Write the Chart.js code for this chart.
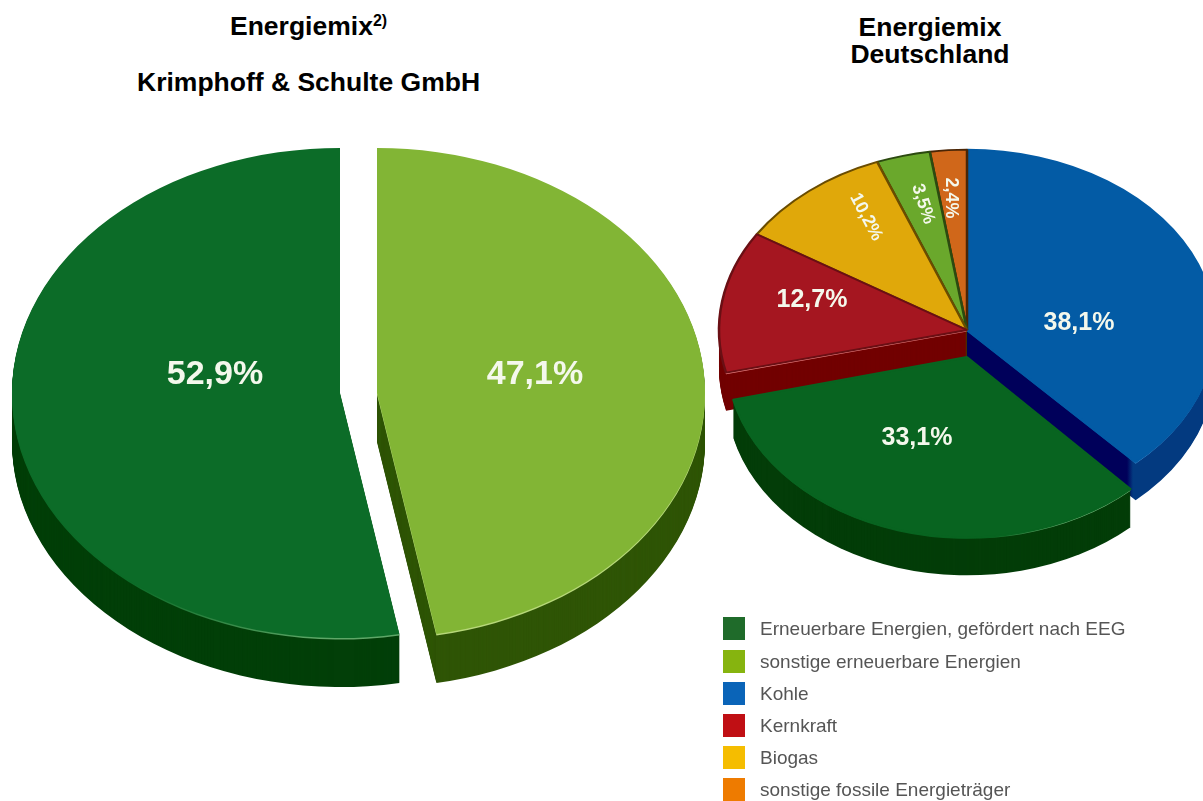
<!DOCTYPE html>
<html lang="de">
<head>
<meta charset="utf-8">
<title>Energiemix</title>
<script src="https://cdn.jsdelivr.net/npm/chart.js@4/dist/chart.umd.min.js"></script>
<style>
  html, body { margin: 0; background: #fff; width: 1203px; height: 801px; overflow: hidden; }
  body { position: relative; font-family: "Liberation Sans", Arial, sans-serif; }
  canvas { position: absolute; filter: blur(0.4px); }
  #mixLeft { left: 0; top: 0; }
  #mixRight { left: 700px; top: 0; }
  .title { position: absolute; font-weight: bold; font-size: 26.5px; line-height: 27px; text-align: center; color: #000; white-space: nowrap; }
  .title sup { font-size: 16px; line-height: 0; vertical-align: 9px; }
  #legend { position: absolute; left: 723px; top: 617px; }
  .row { position: absolute; left: 0; white-space: nowrap; height: 23px; }
  .row i { position: absolute; left: 0; top: 0; width: 22px; height: 23px; }
  .row span { position: absolute; left: 37px; top: 0; font-size: 19px; line-height: 23px; color: #555; filter: blur(0.5px); }
</style>
</head>
<body>
<div class="title" style="left:230px;top:13px">Energiemix<sup>2)</sup></div>
<div class="title" style="left:137px;top:69px">Krimphoff &amp; Schulte GmbH</div>
<div class="title" style="left:830px;top:14px;width:200px">Energiemix<br>Deutschland</div>
<canvas id="mixLeft" width="718" height="786"></canvas>
<canvas id="mixRight" width="534" height="660"></canvas>
<div id="legend"></div>
<script>
// Energiemix Krimphoff & Schulte, clockwise from the top
const companyCategories = ["sonstige erneuerbare Energien", "Erneuerbare Energien, gefördert nach EEG"];
const companyValues = [47.1, 52.9];

// Energiemix Deutschland, clockwise from the top
const germanyCategories = ["Kohle", "Erneuerbare Energien, gefördert nach EEG", "Kernkraft", "Biogas", "sonstige erneuerbare Energien", "sonstige fossile Energieträger"];
const germanyValues = [38.1, 33.1, 12.7, 10.2, 3.5, 2.4];

// Legend
const legendLabels = ["Erneuerbare Energien, gefördert nach EEG", "sonstige erneuerbare Energien", "Kohle", "Kernkraft", "Biogas", "sonstige fossile Energieträger"];
const legendColors = ["#1f6b2a", "#86b40f", "#0a64b8", "#c00f14", "#f5bd00", "#ee7b00"];
const legendTops = [0, 33, 65, 97, 129, 161];

const fmt = (v) => v.toFixed(1).replace(".", ",") + "%";

// a colour, or [from, to, x0, x1] for a left to right change
function paint(ctx, spec) {
  if (typeof spec === "string") return spec;
  const g = ctx.createLinearGradient(spec[2], 0, spec[3], 0);
  g.addColorStop(0, spec[0]);
  g.addColorStop(1, spec[1]);
  return g;
}

function drawArc(ctx, arc, style, dx, dy, opts, i) {
  const keep = arc.options;
  arc.options = Object.assign({}, keep, style);
  ctx.save();
  ctx.translate(dx + arc.x, dy + arc.y);
  ctx.scale(opts.widen[i], opts.squash);
  ctx.translate(-arc.x, -arc.y);
  arc.draw(ctx);
  ctx.restore();
  arc.options = keep;
}

// Squashes the pie to an ellipse and extrudes every slice
const pie3d = {
  id: "pie3d",
  beforeDatasetDraw(chart, args, opts) {
    const { ctx } = chart;
    const arcs = chart.getDatasetMeta(0).data;
    opts.order.forEach((i) => {
      const arc = arcs[i];
      const [sx, sy] = opts.shift[i];
      for (let d = opts.depth; d > 0; d--) {
        drawArc(ctx, arc, { backgroundColor: paint(ctx, opts.rim[i]), borderWidth: 0 }, sx, sy + d, opts, i);
      }
      drawArc(ctx, arc, { backgroundColor: paint(ctx, opts.glint[i]), borderWidth: 0 }, sx, sy + 1.5, opts, i);
      drawArc(ctx, arc, {}, sx, sy, opts, i);
    });
    return false;
  },
  afterDatasetsDraw(chart, args, opts) {
    const { ctx } = chart;
    const arcs = chart.getDatasetMeta(0).data;
    chart.data.datasets[0].data.forEach((v, i) => {
      const [sx, sy] = opts.shift[i];
      const [lx, ly, size, rot] = opts.labels[i];
      ctx.save();
      ctx.translate(arcs[i].x + sx + lx, arcs[i].y + sy + ly);
      ctx.rotate((rot * Math.PI) / 180);
      ctx.font = "bold " + size + 'px "Liberation Sans", Arial, sans-serif';
      ctx.fillStyle = "#f4f8ec";
      ctx.textAlign = "center";
      ctx.textBaseline = "middle";
      ctx.fillText(fmt(v), 0, 0);
      ctx.restore();
    });
  },
};

function makePie(id, categories, values, radius, faces, borders, borderWidth, style) {
  return new Chart(document.getElementById(id), {
    type: "pie",
    data: {
      labels: categories,
      datasets: [{ data: values, backgroundColor: faces, borderColor: borders, borderWidth }],
    },
    options: {
      responsive: false,
      animation: false,
      radius,
      plugins: { legend: { display: false }, tooltip: { enabled: false }, pie3d: style },
    },
    plugins: [pie3d],
  });
}

makePie("mixLeft", companyCategories, companyValues, 328,
  ["#82b535", "#0c6c28"], ["#82b535", "#0c6c28"], 0, {
    squash: 0.747,
    depth: 49,
    order: [0, 1],
    widen: [1, 1],
    shift: [[18, 0], [-19, 0]],
    rim: ["#2f5506", "#023f08"],
    glint: ["#b7d87a", ["#0c6c28", "#5fa768", 150, 340]],
    labels: [[158, -18, 34, 0], [-125, -18, 34, 0]],
  });

makePie("mixRight", germanyCategories, germanyValues, 248,
  ["#035ba5", "#086420", "#a51620", "#e0a80a", "#6aa82c", "#d0671a"],
  ["#035ba5", "#086420", "#6a0f14", "#6a4c00", "#2c4a10", "#4a2505"], 2.5, {
    squash: 0.727,
    depth: 38,
    order: [0, 5, 4, 3, 2, 1],
    widen: [1, 0.97, 1, 1, 1, 1],
    shift: [[0, 0], [0, 27], [0, 0], [0, 0], [0, 0], [0, 0]],
    rim: [["#00005a", "#033a80", 427, 433], "#033d08", "#720000", "#4a3500", "#2c4a10", "#4a2505"],
    glint: [["#035ba5", "#5a9ad8", 429, 440], ["#086420", "#7fbf85", 290, 380], "#e88080", "#e0a80a", "#6aa82c", "#d0671a"],
    labels: [[112, -7, 25, 0], [-50, 81, 25, 0], [-155, -30, 25, 0], [-101, -113, 18, 62], [-44, -126, 18, 72], [-16, -132, 18, 90]],
  });

// Legend
document.getElementById("legend").innerHTML = legendLabels
  .map((label, i) => `<div class="row" style="top:${legendTops[i]}px"><i style="background:${legendColors[i]}"></i><span>${label}</span></div>`)
  .join("");
</script>
</body>
</html>
